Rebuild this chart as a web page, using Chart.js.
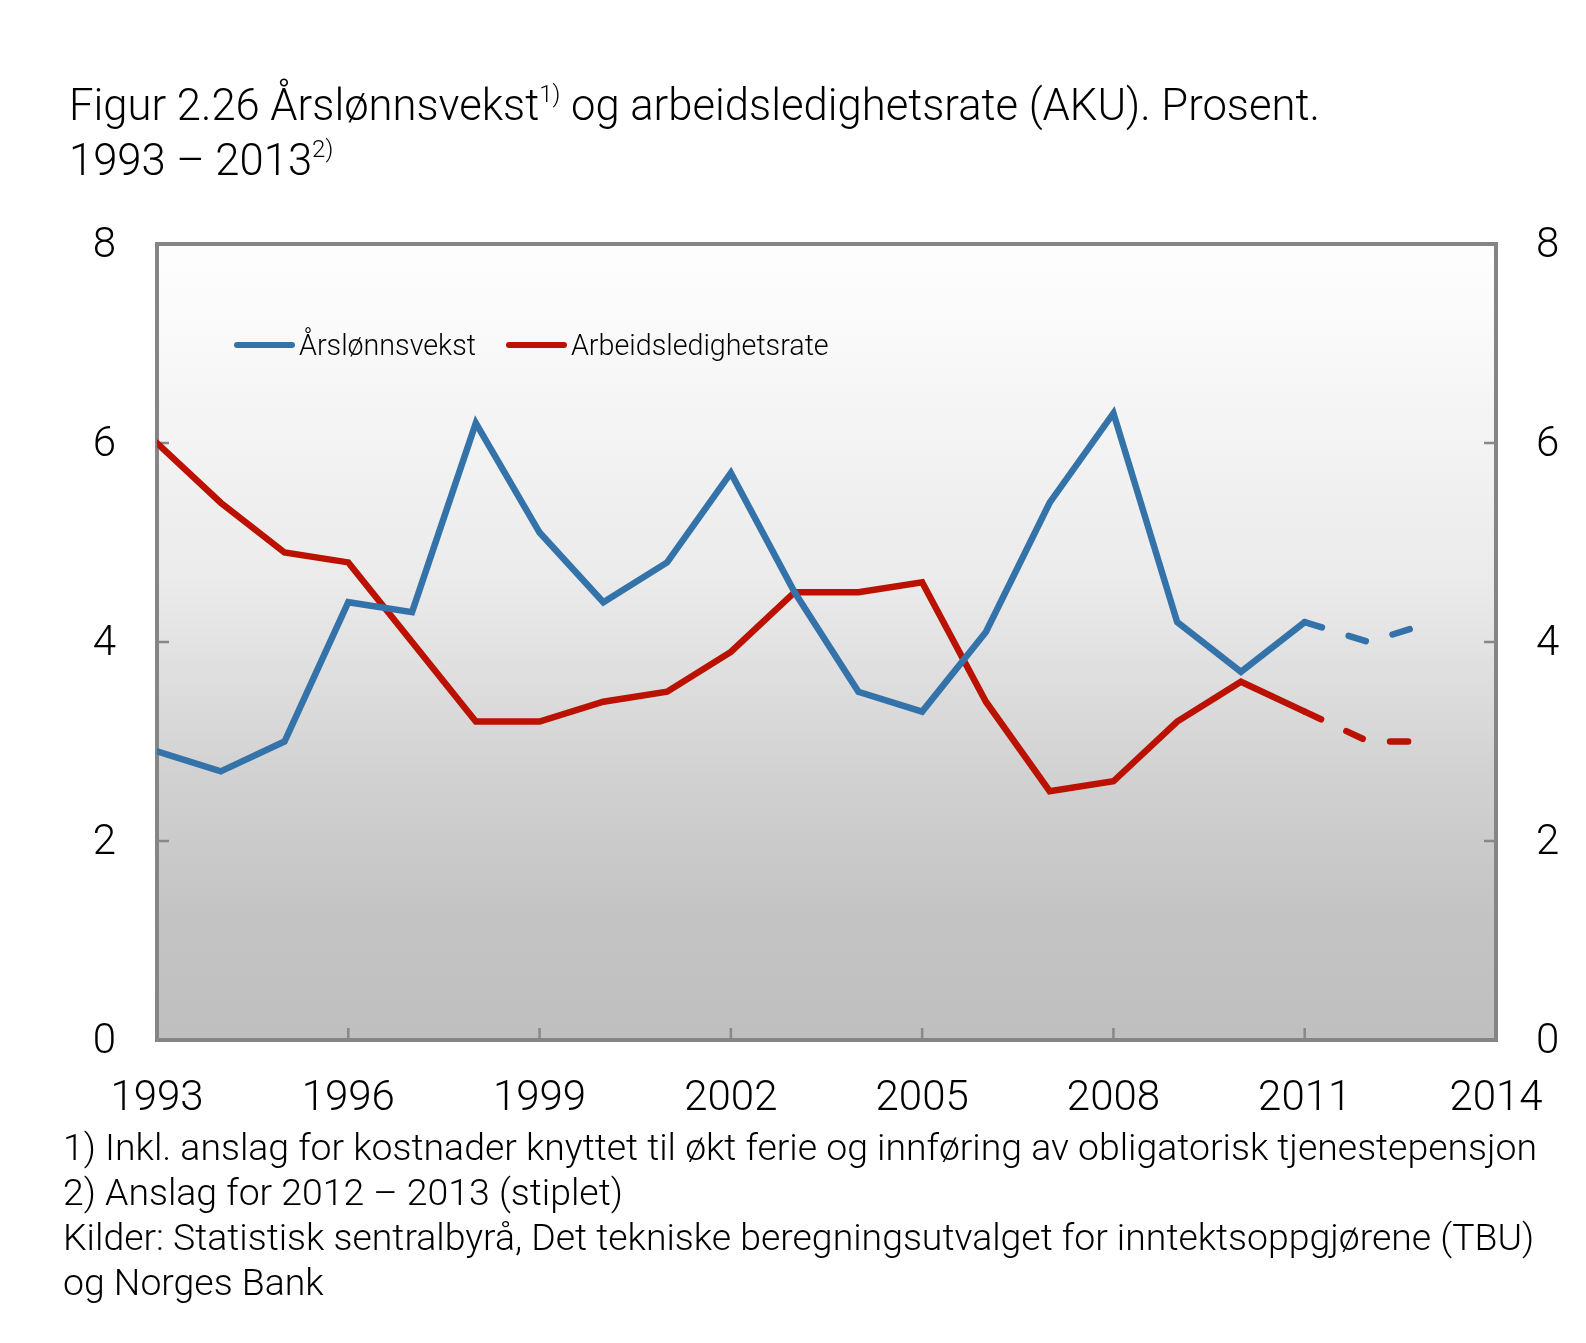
<!DOCTYPE html>
<html>
<head>
<meta charset="utf-8">
<script src="https://cdn.jsdelivr.net/npm/chart.js@4.4.0/dist/chart.umd.min.js"></script>
<style>
  html, body { margin: 0; padding: 0; background: #ffffff; }
  body { width: 1586px; height: 1343px; position: relative; overflow: hidden;
         font-family: Roboto, "Liberation Sans", sans-serif; font-weight: 300; color: #000; }
  #wrap { position: absolute; left: 0; top: 0; width: 1586px; height: 1343px; }
  #title { position: absolute; left: 69px; top: 78px; font-size: 43.6px; line-height: 55px; white-space: nowrap; }
  #title sup, .fn sup { font-size: 0.55em; vertical-align: 0.75em; line-height: 0; }
  #legend { position: absolute; left: 234px; top: 325px; height: 40px; display: flex; align-items: center;
            font-size: 28.7px; white-space: nowrap; }
  .lg-item { display: flex; align-items: center; margin-right: 30px; }
  .lg-line { width: 61px; height: 6px; border-radius: 3px; margin-right: 4px; }
  #notes { position: absolute; left: 63px; top: 1125px; font-size: 37.4px; line-height: 45px; white-space: nowrap; }
</style>
</head>
<body>
<div id="wrap"><canvas id="c" width="1586" height="1343"></canvas></div>
<div id="title">Figur 2.26 Årslønnsvekst<sup>1)</sup> og arbeidsledighetsrate (AKU). Prosent.<br>1993 – 2013<sup>2)</sup></div>
<div id="legend"></div>
<div id="notes">
  <div>1) Inkl. anslag for kostnader knyttet til økt ferie og innføring av obligatorisk tjenestepensjon</div>
  <div>2) Anslag for 2012 – 2013 (stiplet)</div>
  <div>Kilder: Statistisk sentralbyrå, Det tekniske beregningsutvalget for inntektsoppgjørene (TBU)</div>
  <div>og Norges Bank</div>
</div>
<script>
// ---- Data ----
const years = [1993,1994,1995,1996,1997,1998,1999,2000,2001,2002,2003,2004,2005,2006,2007,2008,2009,2010,2011,2012,2013];
const wageGrowth = [2.9,2.7,3.0,4.4,4.3,6.2,5.1,4.4,4.8,5.7,4.5,3.5,3.3,4.1,5.4,6.3,4.2,3.7,4.2,4.0,4.2];
const unemployment = [6.0,5.4,4.9,4.8,4.0,3.2,3.2,3.4,3.5,3.9,4.5,4.5,4.6,3.4,2.5,2.6,3.2,3.6,3.3,3.0,3.0];
const seriesLabels = ['Årslønnsvekst', 'Arbeidsledighetsrate'];
const forecastFrom = 2011;
const xTicks = [1993,1996,1999,2002,2005,2008,2011,2014];
const yTicks = [0,2,4,6,8];

const colors = ['#3473a9', '#bb1100'];
const FONT = 'Roboto, "Liberation Sans", sans-serif';

const bgPlugin = {
  id: 'bg',
  beforeDatasetsDraw(chart) {
    const {ctx, chartArea: a, scales} = chart;
    ctx.save();
    const g = ctx.createLinearGradient(0, a.top, 0, a.bottom);
    g.addColorStop(0, '#fefefe');
    g.addColorStop(0.12, '#f9f9f9');
    g.addColorStop(0.42, '#ebebeb');
    g.addColorStop(0.5, '#e3e3e3');
    g.addColorStop(0.67, '#d1d1d1');
    g.addColorStop(0.85, '#c3c3c3');
    g.addColorStop(1, '#bfbfbf');
    ctx.fillStyle = g;
    ctx.fillRect(a.left, a.top, a.right - a.left, a.bottom - a.top);
    // inner tick marks
    ctx.strokeStyle = '#888888';
    ctx.lineWidth = 2.5;
    const L = 12;
    ctx.beginPath();
    xTicks.slice(1, -1).forEach(v => {
      const x = scales.x.getPixelForValue(v);
      ctx.moveTo(x, a.bottom); ctx.lineTo(x, a.bottom - L);
    });
    yTicks.slice(1, -1).forEach(v => {
      const y = scales.y.getPixelForValue(v);
      ctx.moveTo(a.left, y); ctx.lineTo(a.left + L, y);
      const y2 = scales.y2.getPixelForValue(v);
      ctx.moveTo(a.right, y2); ctx.lineTo(a.right - L, y2);
    });
    ctx.stroke();
    // frame
    ctx.strokeStyle = '#858585';
    ctx.lineWidth = 4;
    ctx.strokeRect(a.left, a.top, a.right - a.left, a.bottom - a.top);
    ctx.restore();
  }
};

const mkData = arr => years.map((x, i) => ({x, y: arr[i]}));

const chart = new Chart(document.getElementById('c'), {
  type: 'line',
  data: {
    datasets: [wageGrowth, unemployment].map((arr, i) => ({
      label: seriesLabels[i],
      data: mkData(arr),
      borderColor: colors[i],
      backgroundColor: colors[i],
      borderWidth: 6.5,
      borderCapStyle: 'round',
      borderJoinStyle: 'miter',
      pointRadius: 0,
      tension: 0,
      fill: false,
      yAxisID: 'y',
      segment: {
        borderDash: ctx => (ctx.p0.parsed.x >= forecastFrom ? [18, 28] : undefined)
      }
    }))
  },
  options: {
    responsive: false,
    animation: false,
    events: [],
    layout: { padding: { top: 244, left: 0, right: 0, bottom: 0 } },
    plugins: { legend: { display: false }, tooltip: { enabled: false } },
    scales: {
      x: {
        type: 'linear', min: 1993, max: 2014,
        afterBuildTicks: s => { s.ticks = xTicks.map(v => ({value: v})); },
        ticks: { callback: v => String(v), font: { family: FONT, size: 42, weight: '300' }, color: '#000', padding: 34, maxRotation: 0, autoSkip: false },
        grid: { display: false, drawTicks: false },
        border: { display: false },
        afterFit: s => { s.height = 303; }
      },
      y: {
        position: 'left', min: 0, max: 8,
        afterBuildTicks: s => { s.ticks = yTicks.map(v => ({value: v})); },
        ticks: { font: { family: FONT, size: 42, weight: '300' }, color: '#000', padding: 41, labelOffset: 2 },
        grid: { display: false, drawTicks: false },
        border: { display: false },
        afterFit: s => { s.width = 157; }
      },
      y2: {
        position: 'right', min: 0, max: 8,
        afterBuildTicks: s => { s.ticks = yTicks.map(v => ({value: v})); },
        ticks: { font: { family: FONT, size: 42, weight: '300' }, color: '#000', padding: 40, labelOffset: 2 },
        grid: { display: false, drawTicks: false },
        border: { display: false },
        afterFit: s => { s.width = 90; }
      }
    }
  },
  plugins: [bgPlugin]
});

// HTML legend from datasets
const lg = document.getElementById('legend');
chart.data.datasets.forEach(ds => {
  const item = document.createElement('div');
  item.className = 'lg-item';
  const ln = document.createElement('div');
  ln.className = 'lg-line';
  ln.style.background = ds.borderColor;
  const tx = document.createElement('span');
  tx.textContent = ds.label;
  item.appendChild(ln); item.appendChild(tx);
  lg.appendChild(item);
});
</script>
</body>
</html>
